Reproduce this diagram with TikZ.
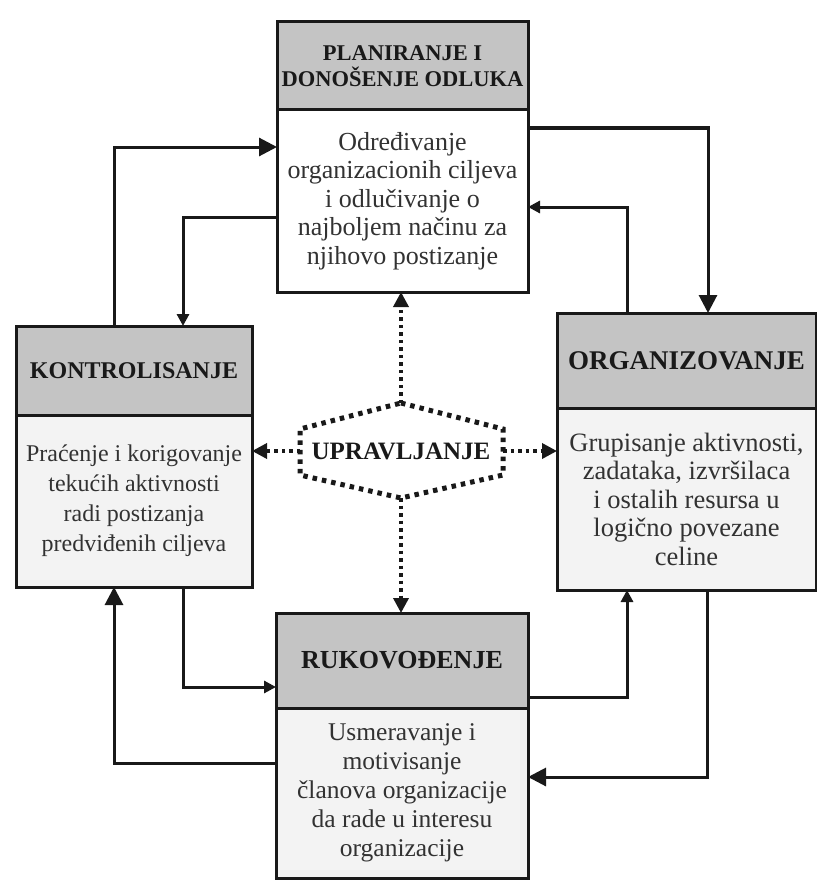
\documentclass[tikz,border=0pt]{standalone}
\usepackage{fontspec}
\setmainfont{Liberation Serif}
\usetikzlibrary{positioning, calc, arrows.meta}
\definecolor{headgray}{RGB}{196,196,196}
\definecolor{bodygray}{RGB}{243,243,243}
\definecolor{inkgray}{RGB}{50,50,50}
\definecolor{linegray}{RGB}{25,25,25}

\tikzset{
  headbox/.style={draw=linegray, fill=headgray, line width=3pt, outer sep=0pt, inner sep=2pt,
                  align=center, text=linegray},
  bodybox/.style={draw=linegray, fill=bodygray, line width=3pt, outer sep=0pt, inner sep=2pt,
                  align=center, text=inkgray, font=\fontsize{24}{28.5}\selectfont},
  bigtip/.style={draw=linegray, line width=3pt, -{Triangle[length=18pt,width=18pt]}},
  smalltip/.style={draw=linegray, line width=3pt, -{Triangle[length=12pt,width=12pt]}},
  dotarrow/.style={draw=linegray, line width=3.5pt, dash pattern=on 3.5pt off 4pt,
                   -{Triangle[length=15pt,width=15pt]}},
  hexdots/.style={draw=linegray, line width=5pt, dash pattern=on 4.5pt off 5pt},
}

\begin{document}
\begin{tikzpicture}[x=1pt, y=-1pt]
    \useasboundingbox (0,0) rectangle (816,888);

    % planiranje (top)
    \node[headbox, minimum width=251pt, minimum height=88pt, anchor=north west,
          font=\bfseries\fontsize{22.5}{26}\selectfont] (planHead) at (277,22)
          {PLANIRANJE I\\DONOŠENJE ODLUKA};
    \node[bodybox, fill=white, minimum width=251pt, minimum height=182pt, below=0pt of planHead,
          font=\fontsize{26}{28.5}\selectfont] (planBody)
          {Određivanje\\organizacionih ciljeva\\i odlučivanje o\\najboljem načinu za\\njihovo postizanje};

    % kontrolisanje (left)
    \node[headbox, minimum width=236pt, minimum height=89pt, anchor=north west,
          font=\bfseries\fontsize{24}{28}\selectfont] (kontHead) at (16,326) {KONTROLISANJE};
    \node[bodybox, minimum width=236pt, minimum height=172pt, below=0pt of kontHead,
          font=\fontsize{24}{30}\selectfont] (kontBody)
          {Praćenje i korigovanje\\tekućih aktivnosti\\radi postizanja\\predviđenih ciljeva};

    % organizovanje (right)
    \node[headbox, minimum width=259pt, minimum height=95pt, anchor=north west,
          font=\bfseries\fontsize{27}{30}\selectfont] (orgHead) at (557,313) {ORGANIZOVANJE};
    \node[bodybox, minimum width=259pt, minimum height=182pt, below=0pt of orgHead,
          font=\fontsize{26.5}{28.5}\selectfont] (orgBody)
          {Grupisanje aktivnosti,\\zadataka, izvršilaca\\i ostalih resursa u\\logično povezane\\celine};

    % rukovodjenje (bottom)
    \node[headbox, minimum width=252pt, minimum height=95pt, anchor=north west,
          font=\bfseries\fontsize{26}{30}\selectfont] (rukoHead) at (276,613) {RUKOVOĐENJE};
    \node[bodybox, minimum width=252pt, minimum height=170pt, below=0pt of rukoHead,
          font=\fontsize{25.5}{29}\selectfont] (rukoBody)
          {Usmeravanje i\\motivisanje\\članova organizacije\\da rade u interesu\\organizacije};

    % upravljanje (centre)
    \node[font=\bfseries\fontsize{25}{28}\selectfont, text=linegray, inner sep=0pt] (core) at (401,451) {UPRAVLJANJE};
    \coordinate (hexT) at ([yshift=48pt]core.center);
    \coordinate (hexB) at ([yshift=-47pt]core.center);
    \coordinate (hexL) at ([xshift=-101pt]core.center);
    \coordinate (hexR) at ([xshift=102pt]core.center);
    \draw[hexdots] (hexT) -- ([xshift=102pt,yshift=22pt]core.center) -- ([xshift=102pt,yshift=-24pt]core.center)
        -- (hexB) -- ([xshift=-101pt,yshift=-24pt]core.center) -- ([xshift=-101pt,yshift=22pt]core.center) -- cycle;

    \draw[dotarrow] (hexT) -- (hexT |- planBody.south);
    \draw[dotarrow] (hexL) -- (hexL -| kontBody.east);
    \draw[dotarrow] (hexR) -- (hexR -| orgBody.west);
    \draw[dotarrow] (hexB) -- (hexB |- rukoHead.north);

    % outer loop
    \draw[bigtip] ([xshift=-20pt]kontHead.north) |- ([yshift=54pt]planBody.west);
    \draw[smalltip] ([yshift=-16pt]planBody.west) -| ([xshift=49pt]kontHead.north);
    \draw[bigtip] ([yshift=73pt]planBody.east) -| ([xshift=21.5pt]orgHead.north);
    \draw[smalltip] ([xshift=-59.5pt]orgHead.north) |- ([yshift=-6pt]planBody.east);
    \draw[smalltip] ([yshift=-36.5pt]rukoHead.east) -| ([xshift=-59.5pt]orgBody.south);
    \draw[bigtip] ([xshift=20.5pt]orgBody.south) |- ([yshift=16pt]rukoBody.east);
    \draw[smalltip] ([xshift=49pt]kontBody.south) |- ([yshift=-26.5pt]rukoHead.west);
    \draw[bigtip] ([yshift=30pt]rukoBody.west) -| ([xshift=-20pt]kontBody.south);
\end{tikzpicture}
\end{document}
